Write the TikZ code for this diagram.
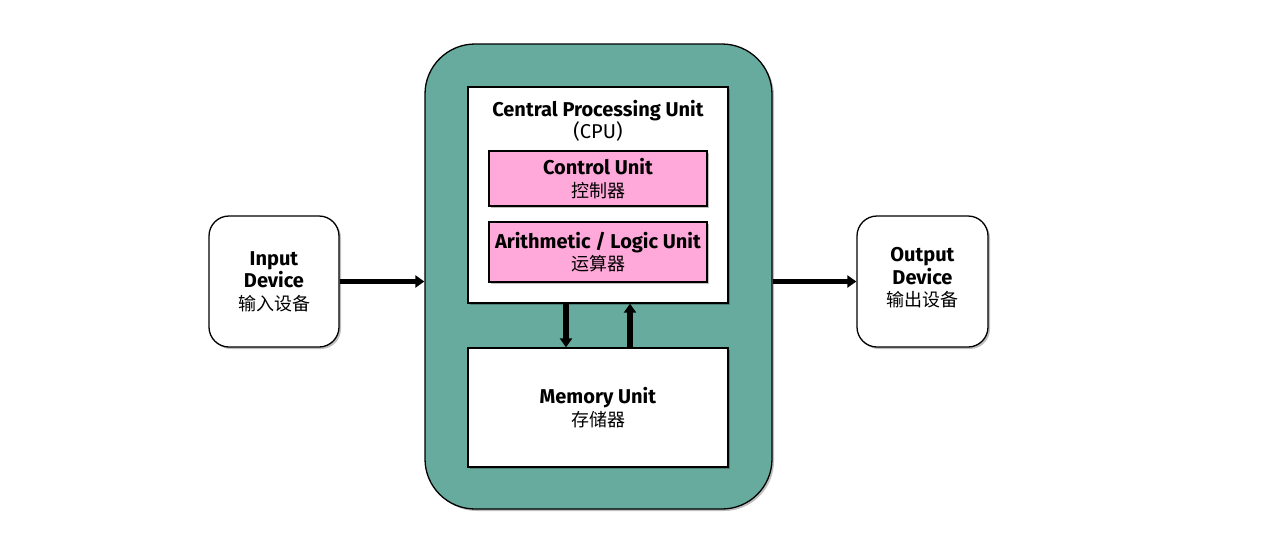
\documentclass[tikz,border=0pt]{standalone}
\usepackage{fontspec}
\setmainfont{Fira Sans}
\newfontfamily\cjk{Noto Sans CJK SC}
\usetikzlibrary{arrows.meta,shadows}
\definecolor{tealfill}{HTML}{67AB9F}
\definecolor{pinkfill}{HTML}{FFA8DA}
\tikzset{
  boxbase/.style={draw=black, line width=1.3pt, align=center, inner sep=0pt,
    font=\fontsize{20}{22.5}\selectfont,
    drop shadow={shadow xshift=2pt, shadow yshift=-2pt, opacity=0.25, fill=black}},
  greenbox/.style={boxbase, fill=tealfill, rounded corners=50pt, minimum width=347pt, minimum height=465pt},
  whitebox/.style={boxbase, fill=white, minimum width=260pt},
  pinkbox/.style={boxbase, fill=pinkfill, minimum width=218pt},
  devbox/.style={boxbase, fill=white, rounded corners=20pt, minimum width=130pt, minimum height=131pt},
  plain/.style={align=center, inner sep=0pt, font=\fontsize{20}{22.5}\selectfont},
  flow/.style={line width=5.5pt, -{Triangle[length=9pt,width=12pt]}}
}
\newcommand{\zhtext}[1]{{\cjk\fontsize{18}{22.5}\selectfont #1}}
\begin{document}
\begin{tikzpicture}[x=1pt,y=-1pt]
\useasboundingbox (0,0) rectangle (1264,547);
\node[greenbox] (green) at (598.5,276.5) {};
\node[whitebox, minimum height=216pt] (cpu) at (598,195) {};
\node[plain] (cputitle) at (598,121) {\textbf{Central Processing Unit}\\(CPU)};
\node[pinkbox, minimum height=55pt] (cu) at (598,178.5) {\textbf{Control Unit}\\\zhtext{控制器}};
\node[pinkbox, minimum height=60pt] (alu) at (598,252) {\textbf{Arithmetic / Logic Unit}\\\zhtext{运算器}};
\node[whitebox, minimum height=119pt] (mem) at (598,407.5) {\textbf{Memory Unit}\\\zhtext{存储器}};
\node[devbox] (in) at (274,281.5) {\textbf{Input}\\\textbf{Device}\\\zhtext{输入设备}};
\node[devbox, minimum width=131pt] (out) at (922.5,281.5) {};
\node[plain] (outlbl) at ([yshift=3.5pt]out.center) {\textbf{Output}\\\textbf{Device}\\\zhtext{输出设备}};
\draw[flow] (in.east) -- (in.east -| green.west);
\draw[flow] (green.east |- out.west) -- (out.west);
\draw[flow] ([xshift=-32pt]cpu.south) -- ([xshift=-32pt]mem.north);
\draw[flow] ([xshift=32pt]mem.north) -- ([xshift=32pt]cpu.south);
\end{tikzpicture}
\end{document}
